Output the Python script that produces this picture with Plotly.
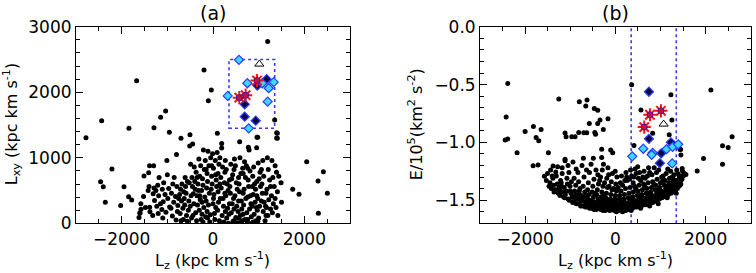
import plotly.graph_objects as go

# ---- panel (a): Lz vs Lxy ----
# scattered field stars, (Lz, Lxy)
a_outer = [(-2781, 1307), (-2438, 1566), (-1672, 2176), (-1840, 1449), (-1292, 1459),
           (-1146, 1617), (-1037, 1714), (-956, 1388), (-701, 1297), (-504, 1353),
           (-445, 1210), (-197, 2339), (-37, 2034), (-102, 1871), (95, 1373),
           (190, 1220), (584, 1246), (774, 1159), (964, 1312), (956, 1154),
           (1197, 2776), (1350, 1576), (1394, 1383), (1394, 1302), (2051, 941),
           (1745, 519), (1883, 442), (2300, 646), (2416, 788), (2504, 458),
           (2307, 153), (-2212, 829), (-2460, 636), (-2402, 559), (-2358, 320),
           (-2022, 270), (-1949, 559), (-1847, 407), (-1781, 356), (-1577, 214),
           (-1599, 153), (-1387, 244), (-1380, 178), (-1511, 722), (-1409, 773),
           (979, 1312), (1408, 1297), (1408, 1373)]
a_left = [(-1600, 160), (-1580, 300), (-1620, 90), (-1480, 240), (-1520, 410),
          (-1400, 560), (-1420, 500), (-1390, 880), (-1300, 880), (-1290, 540),
          (-1310, 450), (-1280, 350), (-1320, 120), (-1210, 580), (-1190, 420),
          (-1230, 260), (-1180, 700), (-1200, 150), (-1110, 520), (-1090, 330),
          (-1120, 210), (-1080, 620), (-1100, 80), (-1010, 960), (-990, 380),
          (-1030, 170), (-970, 530), (-1000, 740), (-910, 460), (-880, 600),
          (-920, 230), (-890, 110), (-860, 320), (-800, 1050), (-790, 560),
          (-820, 410), (-780, 180), (-810, 50), (-770, 270), (-710, 520),
          (-690, 340), (-720, 150), (-680, 600), (-700, 40), (-660, 230), (-730, 440)]
a_mid = [(-610, 700), (-590, 460), (-620, 280), (-580, 120), (-600, 560), (-560, 30),
         (-630, 380), (-510, 1180), (-490, 900), (-520, 620), (-480, 420), (-500, 260),
         (-470, 80), (-530, 340), (-460, 700), (-410, 860), (-390, 520), (-420, 300),
         (-380, 160), (-400, 640), (-360, 40), (-430, 450), (-370, 780), (-310, 980),
         (-290, 720), (-320, 500), (-280, 360), (-300, 200), (-260, 60), (-330, 600),
         (-270, 880), (-290, 420), (-210, 1120), (-190, 820), (-220, 580), (-180, 400),
         (-200, 240), (-160, 100), (-230, 680), (-170, 960), (-240, 320), (-110, 1100),
         (-90, 880), (-120, 640), (-80, 460), (-100, 280), (-60, 130), (-130, 760),
         (-70, 20), (-140, 540), (-50, 1000), (-10, 1060), (10, 840), (-20, 600),
         (20, 440), (0, 300), (30, 150), (-30, 720), (40, 60), (10, 380), (50, 960),
         (90, 1080), (110, 760), (80, 560), (120, 320), (100, 200), (140, 40), (70, 660),
         (130, 900), (110, 480), (190, 1150), (210, 860), (180, 540), (220, 380),
         (200, 120), (240, 20), (170, 700), (230, 260), (250, 620)]
a_right = [(290, 820), (310, 600), (280, 420), (320, 230), (300, 80), (340, 0),
           (270, 960), (330, 500), (350, 140), (390, 900), (410, 680), (380, 460),
           (420, 300), (400, 160), (440, 30), (370, 560), (430, 740), (450, 380),
           (490, 880), (510, 620), (480, 420), (520, 260), (500, 90), (540, 10),
           (470, 980), (530, 520), (550, 180), (590, 1000), (610, 760), (580, 480),
           (620, 340), (600, 120), (640, 40), (570, 600), (630, 220), (650, 840),
           (690, 940), (710, 700), (680, 520), (720, 380), (700, 60), (740, 160),
           (670, 280), (730, 880), (750, 20), (790, 1120), (810, 800), (780, 560),
           (820, 420), (800, 220), (840, 100), (770, 660), (830, 300), (850, 0),
           (890, 860), (910, 600), (880, 440), (920, 320), (900, 140), (940, 40),
           (870, 720), (930, 520), (950, 240), (990, 920), (1010, 680), (980, 380),
           (1020, 260), (1000, 80), (1040, 560), (970, 200), (1030, 780), (1090, 960),
           (1110, 720), (1080, 460), (1120, 320), (1100, 180), (1140, 40), (1070, 600),
           (1190, 1000), (1210, 820), (1180, 520), (1220, 360), (1200, 120), (1240, 660),
           (1170, 240), (1290, 960), (1310, 700), (1280, 420), (1320, 300), (1300, 160),
           (1340, 560), (1390, 780), (1410, 480), (1380, 240), (1420, 120), (1440, 720),
           (1500, 320), (1490, 620)]
a_fill = [(-750, 380), (-640, 480), (-560, 640), (-540, 200), (-450, 560), (-440, 120),
          (-350, 700), (-340, 280), (-250, 500), (-240, 140), (-150, 820), (-150, 340),
          (-130, 180), (-40, 520), (-30, 880), (60, 240), (60, 740), (150, 600),
          (160, 380), (150, 1000), (260, 460), (260, 780), (270, 180), (360, 660),
          (360, 300), (460, 820), (460, 220), (560, 700), (560, 340), (660, 460),
          (660, 760), (660, 140), (760, 400), (760, 840), (760, 60), (860, 560),
          (860, 260), (960, 640), (960, 420), (1060, 340), (1060, 820), (1160, 460),
          (1160, 120), (1260, 560), (1260, 220), (1360, 380), (1360, 880), (-850, 700),
          (-950, 250), (-1050, 440), (-1150, 300), (-1250, 500), (-650, 60), (-350, 420),
          (-220, 20), (-120, 80), (160, 10), (460, 40), (560, 80), (620, 20), (880, 20),
          (980, 30), (1150, 260)]

# highlighted groups in panel (a)
a_cyan_lz = [569, 752, 1080, 1329, 1219, 322, 1197, 782]
a_cyan_lxy = [2496, 2138, 2138, 2154, 2062, 1944, 1857, 1450]
a_navy_lz = [694, 694, 935, 1175, 971]
a_navy_lxy = [1817, 1627, 1566, 2200, 2102]
a_red_lz = [576, 715, 964]
a_red_lxy = [1918, 1955, 2179]
a_tri_lz = [1015]
a_tri_lxy = [2430]

# ---- panel (b): Lz vs E/1e5 ----
b_outer = [(-2385, -0.49), (-2422, -0.78), (-2444, -0.98), (-2385, -0.97), (-2179, -1.09),
           (-2001, -0.905), (-1817, -0.862), (-1758, -0.957), (-1699, -0.986), (-1647, -0.888),
           (-1824, -1.202), (-1714, -1.196), (-1485, -1.09), (-1574, -1.294), (-1255, -0.625),
           (-1116, -0.92), (-1093, -0.951), (-967, -0.951), (-894, -0.951), (-813, -0.914),
           (-1381, -1.205), (-1322, -1.257), (-1116, -1.147), (-799, -0.649), (-629, -0.634),
           (-657, -0.686), (-467, -0.706), (-392, -0.723), (-164, -0.796), (-392, -0.836),
           (-700, -0.916), (-636, -0.917), (-456, -0.915), (-440, -0.93), (-578, -0.836),
           (-341, -0.807), (-268, -0.888), (-304, -1.06), (-104, -1.067), (-60, -1.09),
           (-304, -1.13), (-489, -1.138), (-710, -1.138), (-1116, -1.16),
           (361, -0.502), (1231, -0.588), (2117, -0.548), (567, -0.721), (1253, -0.807),
           (826, -0.922), (1193, -0.934), (412, -1.026), (1231, -0.997), (1430, -1.06),
           (1445, -1.061), (1452, -1.11), (2588, -0.951), (2375, -1.03), (2500, -1.044),
           (2375, -1.19), (1954, -1.139), (1813, -1.248), (1481, -1.225), (1563, -1.277),
           (1467, -1.29)]
b_left = [(-1530, -1.33), (-1470, -1.38), (-1505, -1.27), (-1450, -1.35),
          (-1420, -1.40), (-1385, -1.31), (-1360, -1.43), (-1435, -1.24), (-1370, -1.37),
          (-1330, -1.41), (-1290, -1.36), (-1265, -1.44), (-1310, -1.29), (-1250, -1.39),
          (-1280, -1.21), (-1230, -1.46), (-1195, -1.38), (-1170, -1.43), (-1215, -1.33),
          (-1150, -1.47), (-1180, -1.27), (-1240, -1.41), (-1125, -1.48), (-1090, -1.42),
          (-1065, -1.36), (-1110, -1.45), (-1050, -1.49), (-1075, -1.31), (-1135, -1.39),
          (-1020, -1.50), (-985, -1.44), (-960, -1.47), (-1005, -1.38), (-945, -1.52),
          (-975, -1.34), (-1030, -1.26), (-925, -1.51), (-890, -1.47), (-865, -1.53),
          (-905, -1.42), (-850, -1.49), (-880, -1.37), (-915, -1.31), (-870, -1.23),
          (-825, -1.53), (-795, -1.49), (-770, -1.55), (-810, -1.45), (-755, -1.51),
          (-785, -1.40), (-815, -1.34), (-760, -1.46), (-725, -1.55), (-690, -1.51),
          (-665, -1.56), (-705, -1.47), (-650, -1.53), (-680, -1.43), (-715, -1.38),
          (-660, -1.49), (-695, -1.30), (-625, -1.56), (-595, -1.52), (-570, -1.57),
          (-610, -1.49), (-555, -1.54), (-585, -1.45), (-615, -1.41), (-560, -1.50),
          (-600, -1.35), (-575, -1.26)]
b_mid = [(-525, -1.57), (-495, -1.54), (-470, -1.58), (-510, -1.50), (-455, -1.55),
         (-485, -1.47), (-515, -1.43), (-460, -1.52), (-500, -1.38), (-475, -1.32),
         (-425, -1.58), (-395, -1.55), (-370, -1.57), (-410, -1.52), (-355, -1.54),
         (-385, -1.49), (-415, -1.45), (-360, -1.51), (-400, -1.41), (-375, -1.36),
         (-390, -1.28), (-325, -1.58), (-295, -1.56), (-270, -1.59), (-310, -1.53),
         (-255, -1.55), (-285, -1.50), (-315, -1.47), (-260, -1.52), (-300, -1.43),
         (-275, -1.38), (-290, -1.24), (-265, -1.19), (-225, -1.59), (-195, -1.56),
         (-170, -1.58), (-210, -1.54), (-155, -1.55), (-185, -1.51), (-215, -1.48),
         (-160, -1.52), (-200, -1.44), (-175, -1.39), (-190, -1.31), (-165, -1.22),
         (-125, -1.59), (-95, -1.57), (-70, -1.58), (-110, -1.55), (-55, -1.56),
         (-85, -1.52), (-115, -1.49), (-60, -1.53), (-100, -1.45), (-75, -1.41),
         (-90, -1.34), (-65, -1.27), (-25, -1.59), (5, -1.57), (30, -1.58), (-10, -1.55),
         (45, -1.56), (15, -1.52), (-15, -1.49), (40, -1.53), (0, -1.46), (25, -1.42),
         (10, -1.36), (35, -1.30), (-5, -1.25), (75, -1.59), (105, -1.57), (130, -1.58),
         (90, -1.55), (145, -1.56), (115, -1.52), (85, -1.49), (140, -1.53), (100, -1.46),
         (125, -1.42), (110, -1.35), (135, -1.29), (175, -1.58), (205, -1.57),
         (230, -1.59), (190, -1.55), (245, -1.56), (215, -1.52), (185, -1.49),
         (240, -1.53), (200, -1.45), (225, -1.40), (210, -1.33), (235, -1.26)]
b_right = [(275, -1.58), (305, -1.56), (330, -1.57), (290, -1.54), (345, -1.55),
           (315, -1.51), (285, -1.48), (340, -1.52), (300, -1.44), (325, -1.39),
           (310, -1.32), (335, -1.24), (375, -1.57), (405, -1.55), (430, -1.56),
           (390, -1.53), (445, -1.54), (415, -1.50), (385, -1.47), (440, -1.51),
           (400, -1.43), (425, -1.38), (410, -1.30), (435, -1.23), (395, -1.35),
           (475, -1.56), (505, -1.54), (530, -1.55), (490, -1.52), (545, -1.53),
           (515, -1.49), (485, -1.46), (540, -1.50), (500, -1.42), (525, -1.37),
           (510, -1.31), (535, -1.26), (495, -1.21), (575, -1.55), (605, -1.53),
           (630, -1.54), (590, -1.51), (645, -1.52), (615, -1.48), (585, -1.45),
           (640, -1.49), (600, -1.41), (625, -1.36), (610, -1.30), (635, -1.25),
           (675, -1.54), (705, -1.52), (730, -1.53), (690, -1.50), (745, -1.51),
           (715, -1.47), (685, -1.44), (740, -1.48), (700, -1.40), (725, -1.35),
           (710, -1.29), (735, -1.22), (775, -1.53), (805, -1.51), (830, -1.52),
           (790, -1.49), (845, -1.50), (815, -1.46), (785, -1.43), (840, -1.47),
           (800, -1.39), (825, -1.34), (810, -1.28), (875, -1.51), (905, -1.49),
           (930, -1.50), (890, -1.47), (945, -1.48), (915, -1.44), (885, -1.41),
           (940, -1.45), (900, -1.37), (925, -1.32), (910, -1.26), (975, -1.49),
           (1005, -1.47), (1030, -1.48), (990, -1.45), (1045, -1.46), (1015, -1.42),
           (985, -1.39), (1040, -1.43), (1000, -1.35), (1025, -1.30), (1075, -1.47),
           (1105, -1.45), (1130, -1.46), (1090, -1.43), (1145, -1.44), (1115, -1.40),
           (1085, -1.37), (1140, -1.41), (1100, -1.33), (1125, -1.27), (1175, -1.45),
           (1205, -1.43), (1230, -1.44), (1190, -1.41), (1245, -1.42), (1215, -1.38),
           (1185, -1.35), (1240, -1.39), (1200, -1.31), (1225, -1.25), (1275, -1.43),
           (1305, -1.41), (1330, -1.42), (1290, -1.38), (1345, -1.39), (1315, -1.35),
           (1285, -1.32), (1340, -1.36), (1300, -1.28), (1375, -1.40), (1405, -1.38),
           (1430, -1.37), (1390, -1.34), (1445, -1.33), (1415, -1.30), (1385, -1.27),
           (1475, -1.32), (1505, -1.29), (1530, -1.27), (1490, -1.25)]
b_fill = [(-1180, -1.22), (-1050, -1.20), (-940, -1.17), (-830, -1.26), (-740, -1.20),
          (-640, -1.24), (-540, -1.19), (-430, -1.24), (-330, -1.30), (-240, -1.35),
          (-140, -1.38), (-40, -1.40), (60, -1.39), (160, -1.37), (260, -1.33),
          (360, -1.29), (460, -1.27), (560, -1.33), (660, -1.31), (760, -1.26),
          (860, -1.22), (960, -1.24), (1060, -1.29), (1160, -1.23), (1260, -1.30),
          (1360, -1.24), (-880, -1.45), (-720, -1.49), (-530, -1.53), (-345, -1.56),
          (-140, -1.57), (20, -1.60), (160, -1.60), (350, -1.59), (560, -1.57),
          (760, -1.55), (950, -1.53), (1150, -1.48), (1350, -1.44), (-1000, -1.42),
          (-650, -1.46), (-450, -1.44), (-250, -1.46), (-50, -1.50), (150, -1.50),
          (350, -1.48), (550, -1.46), (750, -1.44), (950, -1.41), (1150, -1.38),
          (1350, -1.33), (-1400, -1.29), (-1200, -1.35), (-800, -1.42), (-350, -1.33),
          (-150, -1.28), (250, -1.30), (450, -1.40), (650, -1.38), (850, -1.36),
          (1050, -1.33), (1250, -1.35), (1450, -1.36)]

b_cyan_lz = [375, 618, 826, 804, 1135, 1268, 1393, 1260]
b_cyan_e = [-1.121, -1.055, -1.09, -1.107, -1.058, -1.038, -1.017, -1.182]
b_navy_lz = [744, 744, 1016, 987, 1231]
b_navy_e = [-0.562, -0.969, -1.095, -1.18, -1.0]
b_red_lz = [640, 766, 1010]
b_red_e = [-0.868, -0.761, -0.727]
b_tri_lz = [1069]
b_tri_e = [-0.842]

lz_lo, lz_hi = 350, 1350
lxy_lo, lxy_hi = 1450, 2500

a_pts = a_outer + a_left + a_mid + a_right + a_fill
b_pts = b_outer + b_left + b_mid + b_right + b_fill

FONT = "DejaVu Sans"
CYAN = "#3ad8ff"
BLUE = "#2a3cff"
NAVY = "#0a0a40"

fig = go.Figure()


def add_groups(xa, ya, pts, cyan, navy, red, tri):
    fig.add_trace(go.Scatter(x=[p[0] for p in pts], y=[p[1] for p in pts], mode="markers",
                             xaxis=xa, yaxis=ya,
                             marker=dict(color="black", size=5, line=dict(width=0))))
    fig.add_trace(go.Scatter(x=navy[0], y=navy[1], mode="markers", xaxis=xa, yaxis=ya,
                             marker=dict(symbol="diamond", color=NAVY, size=7,
                                         line=dict(color=BLUE, width=1.2))))
    fig.add_trace(go.Scatter(x=cyan[0], y=cyan[1], mode="markers", xaxis=xa, yaxis=ya,
                             marker=dict(symbol="diamond", color=CYAN, size=7,
                                         line=dict(color=BLUE, width=1.2))))
    fig.add_trace(go.Scatter(x=red[0], y=red[1], mode="markers", xaxis=xa, yaxis=ya,
                             marker=dict(symbol="asterisk-open", size=11, color="#ff1010",
                                         line=dict(color="#ff1010", width=2))))
    fig.add_trace(go.Scatter(x=red[0], y=red[1], mode="markers", xaxis=xa, yaxis=ya,
                             marker=dict(symbol="circle", color="#c8103c", size=6,
                                         line=dict(color="#3020a0", width=1))))
    fig.add_trace(go.Scatter(x=tri[0], y=tri[1], mode="markers", xaxis=xa, yaxis=ya,
                             marker=dict(symbol="triangle-up-open", size=8, color="black",
                                         line=dict(color="black", width=1))))


add_groups("x", "y", a_pts, (a_cyan_lz, a_cyan_lxy), (a_navy_lz, a_navy_lxy),
           (a_red_lz, a_red_lxy), (a_tri_lz, a_tri_lxy))
add_groups("x2", "y2", b_pts, (b_cyan_lz, b_cyan_e), (b_navy_lz, b_navy_e),
           (b_red_lz, b_red_e), (b_tri_lz, b_tri_e))

dash_line = dict(color="#3a3aff", width=1.6, dash="dot")
fig.add_shape(type="rect", xref="x", yref="y", x0=lz_lo, x1=lz_hi, y0=lxy_lo, y1=lxy_hi,
              line=dash_line, layer="below")
for v in (lz_lo, lz_hi):
    fig.add_shape(type="line", xref="x2", yref="y2 domain", x0=v, x1=v, y0=0, y1=1,
                  line=dash_line, layer="below")

ax = dict(showline=True, linecolor="black", linewidth=1, mirror="ticks", ticks="inside",
          ticklen=7, tickcolor="black", showgrid=False, zeroline=False, automargin=False,
          tickfont=dict(family=FONT, size=17, color="black"))
ydom = [0.182, 0.902]
fig.update_layout(
    width=756, height=273, showlegend=False,
    plot_bgcolor="white", paper_bgcolor="white",
    margin=dict(l=0, r=0, t=0, b=0, pad=0, autoexpand=False),
    xaxis=dict(ax, domain=[0.1005, 0.463], range=[-3000, 3000], dtick=2000, anchor="y",
               minor=dict(dtick=500, ticks="inside", ticklen=4, tickcolor="black")),
    yaxis=dict(ax, domain=ydom, range=[0, 3000], dtick=1000, anchor="x",
               minor=dict(dtick=200, ticks="inside", ticklen=4, tickcolor="black")),
    xaxis2=dict(ax, domain=[0.635, 0.993], range=[-3000, 3000], dtick=2000, anchor="y2",
                minor=dict(dtick=500, ticks="inside", ticklen=4, tickcolor="black")),
    yaxis2=dict(ax, domain=ydom, range=[-1.7, 0.0], dtick=0.5, tickformat=".1f", anchor="x2",
                minor=dict(dtick=0.1, ticks="inside", ticklen=4, tickcolor="black")),
)

txt = dict(family=FONT, size=16, color="black")
notes = [
    dict(text="(a)", x=0.2817, y=0.952, font=dict(family=FONT, size=19, color="black")),
    dict(text="(b)", x=0.814, y=0.952, font=dict(family=FONT, size=19, color="black")),
    dict(text="L<sub>z</sub> (kpc km s<sup>-1</sup>)", x=0.2817, y=0.047, font=txt),
    dict(text="L<sub>z</sub> (kpc km s<sup>-1</sup>)", x=0.814, y=0.047, font=txt),
    dict(text="L<sub>xy</sub> (kpc km s<sup>-1</sup>)", x=0.0146, y=0.545, textangle=-90, font=txt),
    dict(text="E/10<sup>5</sup>(km<sup>2</sup> s<sup>-2</sup>)", x=0.549, y=0.545, textangle=-90, font=txt),
]
for n in notes:
    fig.add_annotation(xref="paper", yref="paper", showarrow=False,
                       xanchor="center", yanchor="middle", **n)

# page body has a default 8px margin; drop it so the figure sits at the window origin
fig.write_html("out.html", config={"displayModeBar": False},
               post_script="document.body.style.margin='0px';")
